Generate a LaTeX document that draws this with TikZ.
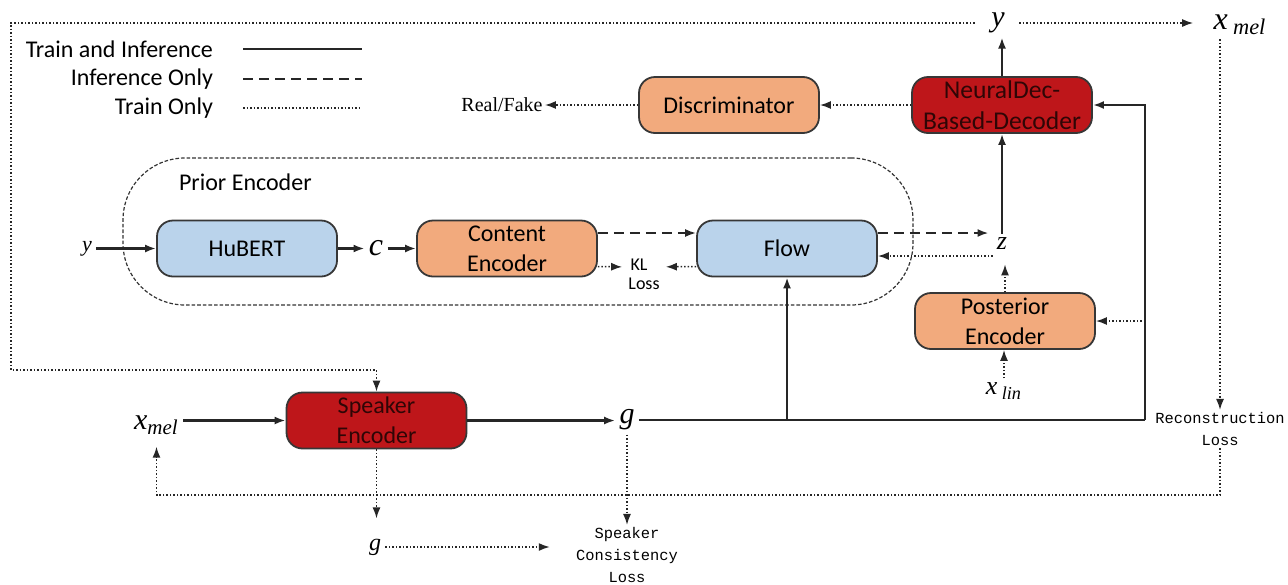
\documentclass[tikz,border=0pt]{standalone}
\usepackage{fontspec}
\setmainfont{Carlito}
\setmonofont{Liberation Mono}
\newfontfamily\tnr{Liberation Serif}
\usetikzlibrary{arrows.meta, positioning, calc}
\definecolor{hubblue}{RGB}{186, 211, 235}
\definecolor{encorange}{RGB}{242, 170, 125}
\definecolor{decred}{RGB}{190, 22, 26}
\definecolor{edgegray}{RGB}{55, 55, 55}

\begin{document}
\begin{tikzpicture}[x=0.5pt, y=-0.5pt,
        blk/.style={rectangle, rounded corners=8pt, draw=edgegray, line width=0.9pt, minimum width=90pt, minimum height=28pt, inner sep=0.5pt, align=center, font=\fontsize{12}{15}\selectfont},
        mvar/.style={inner sep=2pt, font=\fontsize{#1}{#1}\selectfont\tnr\itshape},
        loss/.style={inner sep=1pt, align=center, font=\fontsize{7.7}{11}\selectfont\ttfamily},
        solidln/.style={line width=1.05pt, draw=black!85},
        dashln/.style={line width=1pt, draw=black!85, dash pattern=on 5pt off 3pt},
        dotln/.style={line width=0.75pt, draw=black!85, densely dotted},
        tip/.style={-{Latex[length=5.5pt, width=4pt]}}
    ]
        \useasboundingbox (0,0) rectangle (1288,584);

        % legend
        \node[anchor=east, font=\fontsize{12}{14}\selectfont] (lgboth) at (220,49) {Train and Inference};
        \node[anchor=east, font=\fontsize{12}{14}\selectfont] (lginf) at (220,79) {Inference Only};
        \node[anchor=east, font=\fontsize{12}{14}\selectfont] (lgtr) at (220,108) {Train Only};
        \draw[solidln] (lgboth.east) ++(23,0) -- ++(119,0);
        \draw[dashln] (lginf.east) ++(23,0) -- ++(119,0);
        \draw[dotln] (lgtr.east) ++(23,0) -- ++(119,0);

        % prior encoder
        \node[draw=black!80, line width=0.6pt, dash pattern=on 1.8pt off 1pt, rounded corners=31pt, minimum width=395pt, minimum height=73.5pt] (prior) at (518,231.5) {};
        \node[anchor=west, font=\fontsize{12}{14}\selectfont] (priorlbl) at (172,182) {Prior Encoder};
        \node[blk, fill=hubblue] (hubert) at (247,248.5) {HuBERT};
        \node[blk, fill=encorange] (content) at (507,248.5) {Content\\Encoder};
        \node[blk, fill=hubblue] (flow) at (787,248.5) {Flow};
        \node[mvar=11] (yin) at (87,248.5) {y};
        \node[mvar=16] (c) at (376,248.5) {c};
        \node[inner sep=1pt, font=\fontsize{9}{10}\selectfont] (kl) at (639,265) {KL};
        \node[inner sep=1pt, font=\fontsize{9}{10}\selectfont] (klloss) at (644,284) {Loss};

        % decoder side
        \node[blk, fill=decred, text=decred!25!black, font=\fontsize{12.8}{15.5}\selectfont] (dec) at (1002,105) {NeuralDec-\\Based-Decoder};
        \node[blk, fill=encorange] (disc) at (729,105) {Discriminator};
        \node[inner sep=1pt, font=\fontsize{10}{12}\selectfont\tnr] (rf) at (502,105) {Real/Fake};
        \node[mvar=15] (ytop) at (998,23) {y};
        \node[mvar=16] (xmeltop) at (1240,25) {x\,\textsubscript{mel}};
        \node[mvar=13] (z) at (1002,244) {z};
        \node[blk, fill=encorange] (post) at (1005,321) {Posterior\\Encoder};
        \node[mvar=13] (xlin) at (1004,391) {x\,\textsubscript{lin}};
        \node[loss] (recon) at (1220,429) {Reconstruction\\Loss};

        % speaker branch
        \node[blk, fill=decred, text=decred!25!black] (spk) at (376.5,420.5) {Speaker\\Encoder};
        \node[mvar=15] (xmel) at (156.5,425) {x\textsubscript{mel}};
        \node[mvar=15] (g) at (627,420) {g};
        \node[mvar=12] (g2) at (375,547) {g};
        \node[loss] (scl) at (627,555) {Speaker\\Consistency\\Loss};

        \coordinate (jr) at (1145,420);
        \coordinate (jf) at (flow.south |- jr);
        \coordinate (fu) at ([yshift=7.75pt]flow.east);
        \coordinate (fd) at ([yshift=-3.75pt]flow.east);
        \coordinate (loopr) at (recon.south |- 0,495);

        \draw[solidln, tip] (yin) -- (hubert);
        \draw[solidln, tip] (hubert) -- (c);
        \draw[solidln, tip] (c) -- (content);
        \draw[dashln, tip] ([yshift=7.75pt]content.east) -- ([yshift=7.75pt]flow.west);
        \draw[dotln, tip, shorten >=3pt] ([yshift=-9pt]content.east) -- (kl.west |- 0,267);
        \draw[dotln, tip, shorten >=8pt] ([yshift=-9pt]flow.west) -- (kl.east |- 0,267);
        \draw[dashln, tip, shorten >=2pt] (fu) -- (fu -| z.west);
        \draw[dotln, tip] (fd -| z.west) -- (fd);

        \draw[solidln, tip] (z.north) -- (z.north |- dec.south);
        \draw[dotln, tip, shorten >=5pt] (post.north) -- (post.north |- z.south);
        \draw[dotln, tip] (xlin.north) -- (xlin.north |- post.south);
        \draw[solidln, tip] (dec.north) -- (dec.north |- ytop.south);
        \draw[dotln, tip] (dec.west) -- (disc.east);
        \draw[dotln, tip] (disc.west) -- (rf.east);
        \draw[dotln, tip, shorten <=5pt, shorten >=8pt] (ytop.east) -- (ytop.east -| xmeltop.west);
        \draw[dotln, tip] (recon.north |- xmeltop.south) -- (recon.north);
        \draw[dotln, tip, shorten <=6pt] (ytop.west) -| (11,370) -| (spk.north);
        \draw[dotln, tip, shorten >=4pt] (recon.south) -- (loopr) -| (xmel.south);

        \draw[solidln, tip] (xmel.east |- spk.west) -- (spk.west);
        \draw[solidln, tip] (spk.east) -- (spk.east -| g.west);
        \draw[solidln] (g.east) -- (jr);
        \draw[solidln, tip] (jr) |- (dec.east);
        \draw[solidln, tip] (jf) -- (flow.south);
        \draw[dotln, tip] (jr |- post.east) -- (post.east);

        \draw[dotln, tip] (g.south) -- (g.south |- scl.north);
        \draw[dotln, tip, shorten >=8pt] (spk.south) -- (spk.south |- g2.north);
        \draw[dotln, tip, shorten >=12pt] (g2.east) -- (g2.east -| scl.west);
    \end{tikzpicture}
\end{document}
